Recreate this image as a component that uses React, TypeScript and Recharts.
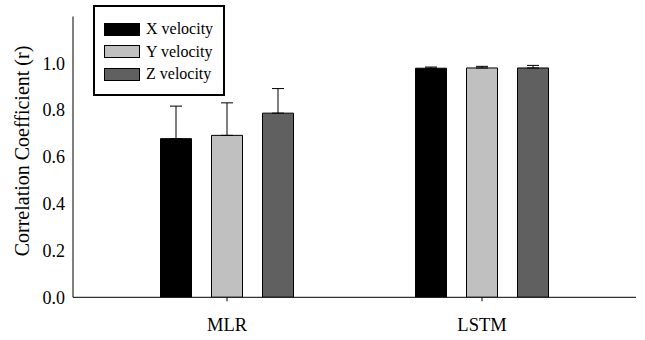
import React from "react";
import {
	Bar,
	BarChart,
	ErrorBar,
	Legend,
	XAxis,
	YAxis,
} from "recharts";

const categories = ["MLR", "LSTM"];
const xVelocity = [0.678, 0.979];
const xError = [0.139, 0.005];
const yVelocity = [0.692, 0.98];
const yError = [0.139, 0.007];
const zVelocity = [0.787, 0.98];
const zError = [0.105, 0.011];
const yTicks = [0, 0.2, 0.4, 0.6, 0.8, 1.0];

const seriesInfo = [
	{ key: "x", label: "X velocity", color: "#000000" },
	{ key: "y", label: "Y velocity", color: "#c0c0c0" },
	{ key: "z", label: "Z velocity", color: "#606060" },
];

const chartData = categories.map((name, i) => ({
	name,
	x: xVelocity[i],
	xErr: [0, xError[i]],
	y: yVelocity[i],
	yErr: [0, yError[i]],
	z: zVelocity[i],
	zErr: [0, zError[i]],
}));

const serif = "Liberation Serif, DejaVu Serif, serif";

const LegendBox = () => (
	<div
		style={{
			border: "2px solid #000",
			width: 128,
			height: 87,
			boxSizing: "content-box",
			fontFamily: serif,
			fontSize: 16,
			position: "relative",
			background: "#fff",
		}}
	>
		{seriesInfo.map((s, i) => (
			<div
				key={s.key}
				style={{
					position: "absolute",
					left: 9,
					top: 12 + i * 22.5,
					display: "flex",
					alignItems: "center",
					height: 20,
					whiteSpace: "nowrap",
				}}
			>
				<div
					style={{
						width: 34,
						height: 11,
						flexShrink: 0,
						background: s.color,
						border: "1px solid #000",
						marginRight: 6,
					}}
				/>
				<span style={{ color: "#000", lineHeight: "20px" }}>{s.label}</span>
			</div>
		))}
	</div>
);

const YLabel = () => (
	<text
		x={22}
		y={151}
		transform="rotate(-90 22 151)"
		textAnchor="middle"
		dominantBaseline="central"
		style={{ fontFamily: serif }}
		fontSize={20}
		fill="#000"
	>
		Correlation Coefficient (r)
	</text>
);

export default function App() {
	return (
		<div style={{ position: "absolute", left: 0, top: 0, background: "#fff", fontFamily: serif }}>
			<BarChart
				width={645}
				height={340}
				data={chartData}
				margin={{ top: 16.5, right: 9, bottom: 0, left: 0 }}
				barSize={31}
				barGap={20}
				style={{ fontFamily: serif }}
			>
				<XAxis
					dataKey="name"
					padding={{ left: 26.5, right: 26.5 }}
					height={42.7}
					stroke="#000"
					tickSize={4}
					tickMargin={17}
					tick={{ fill: "#000", fontSize: 18.5, style: { fontFamily: serif } }}
				/>
				<YAxis
					width={73}
					domain={[0, 1.2]}
					ticks={yTicks}
					tickFormatter={(v) => Number(v).toFixed(1)}
					tickLine={false}
					stroke="#000"
					allowDataOverflow
					tick={{ fill: "#000", fontSize: 18, style: { fontFamily: serif } }}
					label={<YLabel />}
				/>
				<Legend
					layout="vertical"
					align="center"
					verticalAlign="middle"
					content={<LegendBox />}
					wrapperStyle={{ position: "absolute", left: 93, top: 5, width: "auto" }}
				/>
				{seriesInfo.map((s) => (
					<Bar
						key={s.key}
						dataKey={s.key}
						name={s.label}
						fill={s.color}
						stroke="#000"
						strokeWidth={1}
						isAnimationActive={false}
					>
						<ErrorBar
							dataKey={s.key + "Err"}
							direction="y"
							width={6}
							stroke="#000"
							strokeWidth={1}
						/>
					</Bar>
				))}
			</BarChart>
		</div>
	);
}
